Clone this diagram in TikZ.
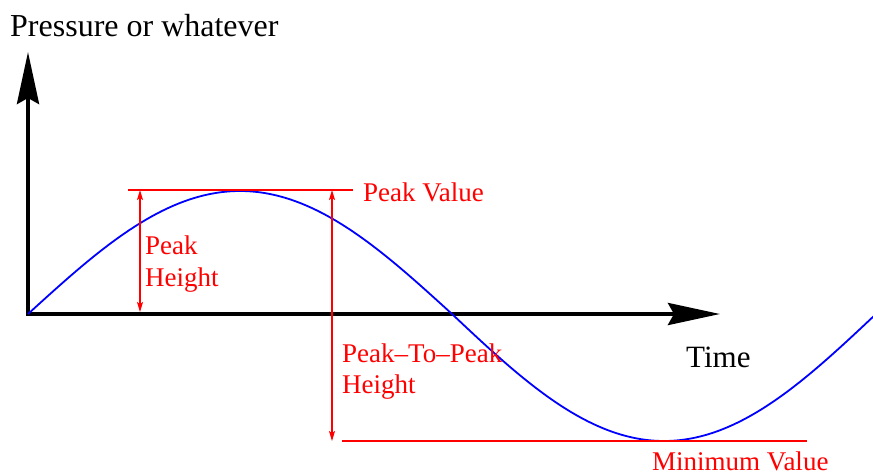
\documentclass[tikz,border=0pt]{standalone}
\usepackage{fontspec}
\setmainfont{Liberation Serif}
\usetikzlibrary{arrows.meta}
\tikzset{
  axis/.style={line width=4pt, -{Stealth[length=52pt, width=22pt, inset=6pt]}},
  wave/.style={blue, line width=1.8pt},
  guide/.style={red, line width=1.2pt},
  dim/.style={red, line width=1.2pt, {Stealth[length=10pt,width=6pt,inset=2pt]}-{Stealth[length=10pt,width=6pt,inset=2pt]}},
  blk/.style={font=\fontsize{31}{34}\selectfont, inner sep=0pt},
  rlbl/.style={red, font=\fontsize{27}{32}\selectfont, inner sep=0pt, align=left}
}
\begin{document}
\begin{tikzpicture}[x=1pt, y=-1pt]
\useasboundingbox (0,0) rectangle (873,475);
\clip (0,0) rectangle (873,475);
% axes
\coordinate (O) at (28,314);
\coordinate (ytip) at (28,52);
\coordinate (xtip) at (720,314);
\draw[axis] (28,316) -- (ytip);
\draw[axis] (O) -- (xtip);
% wave
\draw[wave, domain=28:880, samples=300, smooth] plot (\x, {314 - 125*sin((\x-28)/848*360) + 2*abs(sin((\x-28)/848*360))});
% guides
\coordinate (pvL) at (128,190);
\coordinate (pvR) at (353,190);
\coordinate (mvL) at (342,441);
\coordinate (mvR) at (807,441);
\draw[guide] (pvL) -- (pvR);
\draw[guide] (mvL) -- (mvR);
% dimension arrows
\coordinate (phT) at (140,190);
\coordinate (phB) at (140,312);
\coordinate (ppT) at (332,190);
\coordinate (ppB) at (332,441);
\draw[dim] (phT) -- (phB);
\draw[dim] (ppT) -- (ppB);
% labels
\node[blk, anchor=base west, font=\fontsize{32}{35}\selectfont] (ylab) at (10,36) {Pressure or whatever};
\node[blk, anchor=base west] (xlab) at (686,367) {Time};
\node[rlbl, anchor=base west] (pv) at (363,201) {Peak Value};
\node[rlbl, anchor=base west] (mv) at (652,470) {Minimum Value};
\node[rlbl, anchor=base west] (ph1) at (145,254) {Peak};
\node[rlbl, anchor=base west] (ph2) at (145,286) {Height};
\node[rlbl, anchor=base west] (pp1) at (342,362) {Peak--To--Peak};
\node[rlbl, anchor=base west] (pp2) at (342,393) {Height};
\end{tikzpicture}
\end{document}
